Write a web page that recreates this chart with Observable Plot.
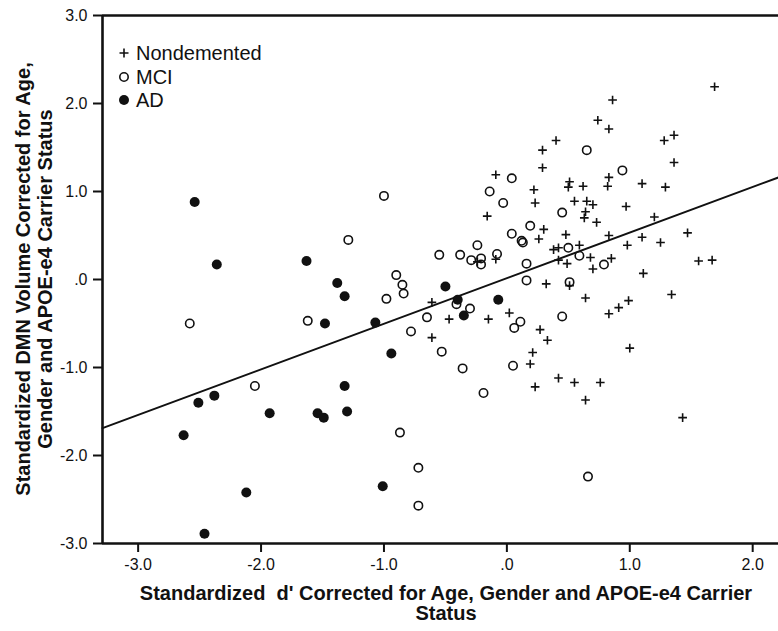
<!DOCTYPE html>
<html><head><meta charset="utf-8">
<script src="https://cdn.jsdelivr.net/npm/d3@7"></script>
<script src="https://cdn.jsdelivr.net/npm/@observablehq/plot@0.6"></script>
<style>
body{margin:0;background:#fff;}
#wrap{position:relative;width:778px;height:631px;overflow:hidden;font-family:"Liberation Sans",Arial,Helvetica,sans-serif;color:#111;}
#wrap svg g[aria-label$="tick"]{stroke-width:2;}
.xt{position:absolute;left:0;width:892px;top:583px;text-align:center;font-weight:bold;font-size:20px;line-height:20px;white-space:pre;}
.yt{position:absolute;left:-246px;top:257px;width:560px;height:44px;text-align:center;font-weight:bold;font-size:20px;line-height:22px;white-space:pre;transform:rotate(-90deg);transform-origin:280px 22px;}
.lg{position:absolute;left:117px;height:24px;font-size:20px;line-height:24px;white-space:pre;display:flex;align-items:center;}
.lg svg{margin-right:5px;}
</style></head><body><div id="wrap"></div>
<script>
// Nondemented (+)
const ndX=[1.69,0.86,0.74,0.83,1.28,1.36,1.36,0.40,0.29,0.29,-0.09,0.51,0.50,0.62,0.83,0.82,1.10,1.29,0.22,0.23,-0.16,0.55,0.65,0.70,0.64,0.63,0.73,0.97,1.20,0.30,0.26,0.48,0.83,1.47,1.10,0.98,1.25,0.59,0.38,0.42,0.68,0.85,0.49,0.70,1.11,1.56,1.67,0.42,-0.09,-0.24,0.32,0.51,0.64,0.83,0.91,0.99,1.34,-0.61,-0.47,-0.15,0.02,-0.61,0.27,0.33,0.21,0.19,0.23,0.42,0.55,0.76,0.64,1.00,1.43];
const ndY=[2.19,2.04,1.81,1.71,1.58,1.64,1.33,1.58,1.47,1.27,1.19,1.11,1.05,1.06,1.16,1.06,1.09,1.05,1.02,0.87,0.72,0.89,0.89,0.85,0.77,0.70,0.65,0.83,0.71,0.57,0.46,0.51,0.50,0.53,0.48,0.39,0.42,0.39,0.34,0.36,0.25,0.24,0.18,0.12,0.07,0.21,0.22,0.22,0.23,0.20,-0.05,-0.07,-0.21,-0.39,-0.32,-0.24,-0.17,-0.26,-0.45,-0.45,-0.38,-0.66,-0.57,-0.69,-0.83,-0.96,-1.22,-1.12,-1.17,-1.17,-1.37,-0.78,-1.57];
// MCI (open circles)
const mciX=[-2.58,-2.05,-1.62,-1.29,-1.00,-0.90,-0.85,-0.84,-0.98,-0.78,-0.65,-0.55,-0.53,-0.41,-0.30,-0.38,-0.36,-0.24,-0.29,-0.21,-0.21,-0.08,-0.14,0.04,-0.03,0.04,0.12,0.13,0.19,0.16,0.16,0.06,0.11,0.05,-0.19,-0.87,-0.72,-0.72,0.45,0.50,0.59,0.51,0.45,0.65,0.94,0.79,0.66];
const mciY=[-0.50,-1.21,-0.47,0.45,0.95,0.05,-0.06,-0.16,-0.22,-0.59,-0.43,0.28,-0.82,-0.28,-0.33,0.28,-1.01,0.39,0.22,0.24,0.17,0.29,1.00,1.15,0.87,0.52,0.44,0.42,0.61,0.18,-0.01,-0.55,-0.48,-0.98,-1.29,-1.74,-2.14,-2.57,0.76,0.36,0.27,-0.03,-0.42,1.47,1.24,0.17,-2.24];
// AD (filled circles)
const adX=[-2.54,-2.36,-2.63,-2.51,-2.38,-2.46,-2.12,-1.93,-1.63,-1.54,-1.49,-1.48,-1.38,-1.32,-1.32,-1.30,-1.07,-0.94,-1.01,-0.50,-0.40,-0.35,-0.07];
const adY=[0.88,0.17,-1.77,-1.40,-1.32,-2.89,-2.42,-1.52,0.21,-1.52,-1.57,-0.50,-0.04,-0.19,-1.21,-1.50,-0.49,-0.84,-2.35,-0.08,-0.23,-0.41,-0.23];
// fitted regression line (endpoints at the x-domain edges)
const fitX=[-3.29,2.21];
const fitY=[-1.689,1.160];
// axes
const xDomain=[-3.29,2.21];
const yDomain=[-3,3];
const xTicks=[-3,-2,-1,0,1,2];
const xTickLabels=["-3.0","-2.0","-1.0",".0","1.0","2.0"];
const yTicks=[-3,-2,-1,0,1,2,3];
const yTickLabels=["-3.0","-2.0","-1.0",".0","1.0","2.0","3.0"];
const groups=["Nondemented","MCI","AD"];
const xTitle=["Standardized  d' Corrected for Age, Gender and APOE-e4 Carrier","Status"];
const yTitle=["Standardized DMN Volume Corrected for Age,","Gender and APOE-e4 Carrier Status"];

const rows=(xs,ys)=>xs.map((x,i)=>({x,y:ys[i]}));
const ink="#111";

const chart=Plot.plot({
  width:778,height:631,
  marginTop:15,marginBottom:88,marginLeft:102,marginRight:0,
  style:{fontFamily:'"Liberation Sans",Arial,sans-serif',fontSize:"16px",color:ink,background:"transparent",overflow:"visible"},
  x:{domain:xDomain,ticks:xTicks,tickFormat:d=>xTickLabels[xTicks.indexOf(d)],tickSize:9,tickPadding:6,label:null},
  y:{domain:yDomain,ticks:yTicks,tickFormat:d=>yTickLabels[yTicks.indexOf(d)],tickSize:9,tickPadding:6,label:null},
  marks:[
    Plot.line(rows(fitX,fitY),{x:"x",y:"y",stroke:ink,strokeWidth:2}),
    Plot.dot(rows(ndX,ndY),{x:"x",y:"y",symbol:"plus",r:2.9,stroke:ink,strokeWidth:1.6}),
    Plot.dot(rows(mciX,mciY),{x:"x",y:"y",symbol:"circle",r:4.2,stroke:ink,fill:"none",strokeWidth:1.6}),
    Plot.dot(rows(adX,adY),{x:"x",y:"y",symbol:"circle",r:5,fill:ink,stroke:"none"}),
    Plot.ruleX([xDomain[0]],{stroke:ink,strokeWidth:2.6}),
    Plot.ruleY([yDomain[0],yDomain[1]],{stroke:ink,strokeWidth:2.6})
  ]
});
const wrap=document.getElementById("wrap");
wrap.appendChild(chart);

// axis titles
const xt=document.createElement("div");xt.className="xt";xt.textContent=xTitle.join("\n");wrap.appendChild(xt);
const yt=document.createElement("div");yt.className="yt";yt.textContent=yTitle.join("\n");wrap.appendChild(yt);

// legend
const icons=[
  '<svg width="14" height="14"><path d="M2.5,7H11.5M7,2.5V11.5" stroke="#111" stroke-width="1.6"/></svg>',
  '<svg width="14" height="14"><circle cx="7" cy="7" r="4.2" fill="none" stroke="#111" stroke-width="1.6"/></svg>',
  '<svg width="14" height="14"><circle cx="7" cy="7" r="5" fill="#111"/></svg>'
];
groups.forEach((g,i)=>{
  const d=document.createElement("div");d.className="lg";
  d.style.top=(41+i*23.5)+"px";
  d.innerHTML=icons[i]+"<span></span>";
  d.querySelector("span").textContent=g;
  wrap.appendChild(d);
});
</script>
</body></html>
